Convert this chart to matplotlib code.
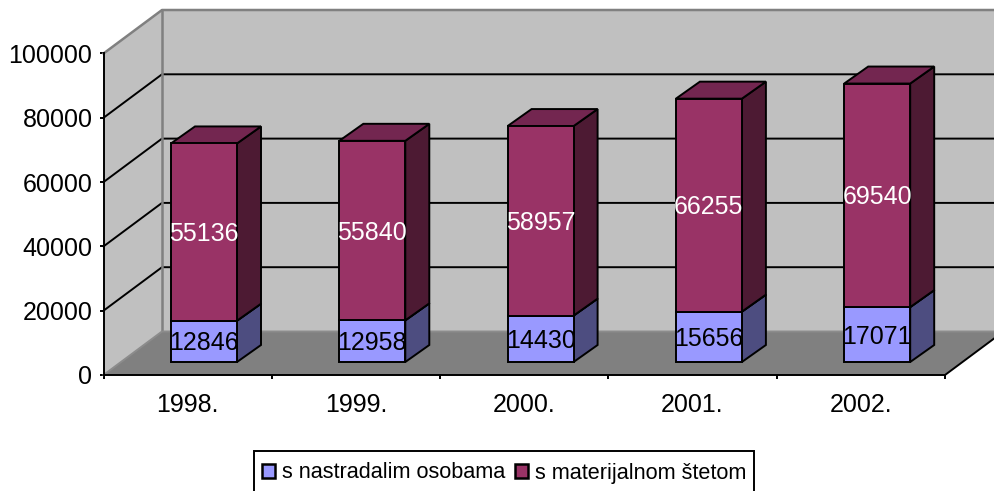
import matplotlib.pyplot as plt
from matplotlib.patches import Polygon, Patch, Rectangle

plt.rcParams['font.family'] = ['Liberation Sans', 'DejaVu Sans']

# Data
years = ['1998.', '1999.', '2000.', '2001.', '2002.']
injured = [12846, 12958, 14430, 15656, 17071]
damage = [55136, 55840, 58957, 66255, 69540]
y_ticks = [0, 20000, 40000, 60000, 80000, 100000]
legend_labels = ['s nastradalim osobama', 's materijalnom štetom']

W, H = 994, 491
fig = plt.figure(figsize=(W / 100, H / 100), dpi=100)
fig.patch.set_facecolor('white')

# Plot area in pixels
left, right, top, bottom = 103.5, 945, 53.5, 375
ax = fig.add_axes([left / W, 1 - bottom / H, (right - left) / W, (bottom - top) / H])
ax.set_xlim(-0.5, 4.5)
ax.set_ylim(0, 100000)
ax.patch.set_alpha(0)

# Pixel sizes expressed in data units
px_x = 5 / (right - left)
px_y = 100000 / (bottom - top)
wall_dx, wall_dy = 58.5 * px_x, 43.5 * px_y
bar_dx, bar_dy = 24 * px_x, 17 * px_y
bar_w = 66 * px_x
bar_off = 67.5 * px_x
base = 13 * px_y
lw = 1.4


def poly(pts, color, edge='none', width=0, z=1):
    ax.add_patch(Polygon(pts, closed=True, facecolor=color, edgecolor=edge,
                         linewidth=width, zorder=z, clip_on=False, joinstyle='miter'))


# Walls and floor
x0, x1 = -0.5, 4.5
x2 = x1 + wall_dx
poly([(x0, 0), (x0 + wall_dx, wall_dy), (x0 + wall_dx, 100000 + wall_dy), (x0, 100000)], '#C0C0C0')
poly([(x0 + wall_dx, wall_dy), (x2, wall_dy), (x2, 100000 + wall_dy), (x0 + wall_dx, 100000 + wall_dy)], '#C0C0C0')
poly([(x0, 0), (x1, 0), (x2, wall_dy), (x0 + wall_dx, wall_dy)], '#808080')

# Grid lines on both walls
for v in y_ticks[1:-1]:
    ax.plot([x0, x0 + wall_dx, x2], [v, v + wall_dy, v + wall_dy], color='black',
            lw=lw, zorder=2, clip_on=False)

# Grey wall edges
ax.plot([x0, x0 + wall_dx, x2], [100000, 100000 + wall_dy, 100000 + wall_dy], color='#808080',
        lw=1.8, zorder=2, clip_on=False)
ax.plot([x0 + wall_dx, x0 + wall_dx], [wall_dy, 100000 + wall_dy], color='#808080',
        lw=1.8, zorder=2, clip_on=False)
ax.plot([x0, x0 + wall_dx, x2], [0, wall_dy, wall_dy], color='#8C8C8C',
        lw=1.4, zorder=2, clip_on=False)
ax.plot([x1, x2], [0, wall_dy], color='black', lw=lw, zorder=2, clip_on=False)

# Stacked 3D bars
for i in range(len(years)):
    xa = i - 0.5 + bar_off
    xb = xa + bar_w
    bottoms = [base, base + injured[i]]
    heights = [injured[i], damage[i]]
    colors = [('#9999FF', '#4D4D80', '#7373BF'), ('#993366', '#4D1A33', '#732650')]
    text_colors = ['black', 'white']
    for b, h, (front, side, roof), tc in zip(bottoms, heights, colors, text_colors):
        t = b + h
        poly([(xb, b), (xb + bar_dx, b + bar_dy), (xb + bar_dx, t + bar_dy), (xb, t)],
             side, 'black', lw, 3)
        poly([(xa, t), (xb, t), (xb + bar_dx, t + bar_dy), (xa + bar_dx, t + bar_dy)],
             roof, 'black', lw, 3)
        poly([(xa, b), (xb, b), (xb, t), (xa, t)], front, 'black', lw, 4)
        ax.text((xa + xb) / 2, b + h / 2 - 2 * px_y, str(h), color=tc, fontsize=18,
                ha='center', va='center', zorder=5, clip_on=False)

# Axes
for s in ['top', 'right']:
    ax.spines[s].set_visible(False)
for s in ['left', 'bottom']:
    ax.spines[s].set_linewidth(lw)
    ax.spines[s].set_zorder(6)
ax.set_yticks(y_ticks)
ax.set_yticklabels([str(v) for v in y_ticks])
ax.set_xticks(range(len(years)))
ax.set_xticklabels(years)
ax.set_xticks([k - 0.5 for k in range(len(years) + 1)], minor=True)
ax.tick_params(axis='y', length=3, width=lw, pad=5, labelsize=18)
ax.tick_params(axis='x', which='major', length=0, pad=13, labelsize=18)
ax.tick_params(axis='x', which='minor', length=3, width=lw)

# Legend box runs off the bottom of the image
fig.add_artist(Rectangle((254 / W, -6 / H), 500 / W, (491 - 451 + 6) / H, transform=fig.transFigure,
                         facecolor='white', edgecolor='black', linewidth=lw))
handles = [Patch(facecolor='#9999FF', edgecolor='black', linewidth=1.8),
           Patch(facecolor='#993366', edgecolor='black', linewidth=1.8)]
fig.legend(handles, legend_labels, ncols=2, loc='center left',
           bbox_to_anchor=(262 / W, 1 - 473 / H), bbox_transform=fig.transFigure,
           borderaxespad=0, fontsize=15.6, frameon=False,
           handlelength=0.6, handleheight=0.6, handletextpad=0.32,
           columnspacing=0.46, borderpad=0)

fig.savefig('out.png', dpi=100)
